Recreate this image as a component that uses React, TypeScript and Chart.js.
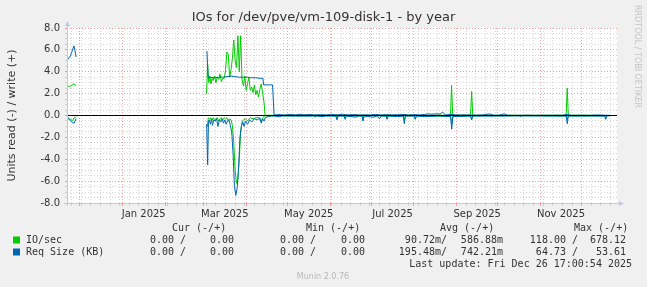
import React, { useEffect, useRef } from 'react';
import { Chart, registerables } from 'chart.js';

Chart.register(...registerables);

// ---------- texts ----------
const TITLE = 'IOs for /dev/pve/vm-109-disk-1 - by year';
const Y_TITLE = 'Units read (-) / write (+)';
const WATERMARK = 'RRDTOOL / TOBI OETIKER';
const VERSION = 'Munin 2.0.76';
const LAST_UPDATE = 'Last update: Fri Dec 26 17:00:54 2025';
const LEGEND_HEADERS = ['Cur (-/+)', 'Min (-/+)', 'Avg (-/+)', 'Max (-/+)'];
const SERIES_NAMES = ['IO/sec', 'Req Size (KB)'];
const IO_STATS = ['0.00 /', '0.00', '0.00 /', '0.00', '90.72m/', '586.88m', '118.00 /', '678.12'];
const REQ_STATS = ['0.00 /', '0.00', '0.00 /', '0.00', '195.48m/', '742.21m', '64.73 /', '53.61'];

// ---------- axes (x in days since 2025-01-01) ----------
const X_MIN = -40.29; // 2024-11-21 17:00
const X_MAX = 359.71; // 2025-12-26 17:00
const MONTH_STARTS = [-31, 0, 31, 59, 90, 120, 151, 181, 212, 243, 273, 304, 334];
const MONTH_LABELS = ['Jan 2025', 'Mar 2025', 'May 2025', 'Jul 2025', 'Sep 2025', 'Nov 2025'];
const MONTH_LABEL_DAYS = [15.5, 74.5, 135.5, 196.5, 258, 319];
const FIRST_MONDAY = -37;
const Y_MIN = -8;
const Y_MAX = 8;
const Y_LABEL_STEP = 2;
const Y_MINOR_STEP = 0.5;

// ---------- series: [day, value] ----------
const IO_WRITE: [number, number | null][] = [
  [-40.2, 2.75], [-39, 2.65], [-37.5, 2.72], [-36.5, 2.8], [-35.2, 2.9], [-34.3, 2.78], [-33.6, 2.72], [-33, null],
  [61.2, 2.0], [62, 4.7], [62.8, 3.0], [63.6, 3.6], [64.4, 2.9], [65.2, 3.4], [66, 3.2], [67, 3.6], [68, 3.0],
  [69, 3.5], [70, 3.3], [71, 3.8], [72, 3.1], [73, 3.4], [74, 3.4], [75, 4.1], [76, 5.8], [77, 5.6], [78, 3.5],
  [79, 4.2], [80, 5.2], [81, 6.9], [82, 5.0], [83, 4.4], [84, 7.3], [85, 4.0], [86, 7.3], [87, 3.3], [88, 2.7],
  [89, 3.6], [90, 2.3], [91, 2.9], [92, 3.5], [93, 2.3], [94, 2.6], [95, 2.1], [96, 2.8], [97, 1.9], [98, 2.3],
  [99, 1.7], [100, 2.4], [101, 2.9], [102, 2.0], [103, 1.2], [103.8, 0.02],
  [105, 0.02], [120, 0.03], [140, 0.02], [160, 0.03], [180, 0.02], [200, 0.03], [220, 0.02],
  [238.6, 0.03], [239.4, 2.75], [240.2, 0.05], [253.2, 0.03], [254, 2.2], [254.8, 0.03], [270, 0.02],
  [300, 0.02], [322.7, 0.03], [323.5, 2.5], [324.3, 0.03], [340, 0.02], [356, 0],
];

const IO_READ: [number, number | null][] = [
  [-40.2, -0.08], [-39, -0.3], [-37.8, -0.35], [-36.2, -0.47], [-35.2, -0.23], [-34, -0.15], [-33.6, -0.1], [-33, null],
  [61.2, -0.9], [61.8, -1.0], [62.5, -0.2], [63.3, -0.3], [64, -0.2], [65, -0.5], [66, -0.2], [67, -0.4], [68, -0.3],
  [69, -0.2], [70, -0.5], [71, -0.3], [72, -0.2], [73, -0.4], [74, -0.2], [75, -0.3], [76, -0.2], [77, -0.5],
  [78, -0.3], [79, -0.4], [80, -0.9], [81, -2.5], [82, -5.0], [83, -6.2], [84, -5.8], [85, -4.0], [86, -1.5],
  [87, -0.6], [88, -0.4], [89.5, -0.3], [91, -0.5], [93, -0.2], [95, -0.3], [97, -0.2], [99, -0.2], [101, -0.6],
  [102, -0.2], [103, -0.1], [104, -0.02],
  [130, -0.03], [155.3, -0.03], [156, -0.3], [156.8, -0.03], [161.3, -0.03], [162, -0.25], [162.8, -0.03],
  [174.3, -0.03], [175, -0.4], [175.8, -0.03], [191.8, -0.03], [192.5, -0.25], [193.3, -0.03], [204.3, -0.03],
  [205, -0.45], [205.8, -0.03], [212.3, -0.03], [213, -0.3], [213.8, -0.03], [238.7, -0.05], [239.5, -0.8],
  [240.3, -0.05], [253.3, -0.03], [254, -0.35], [254.7, -0.03], [300, -0.02], [322.8, -0.03], [323.5, -0.4],
  [324.3, -0.03], [350.8, -0.03], [351.5, -0.25], [352.3, -0.02], [356, 0],
];

const REQ_WRITE: [number, number | null][] = [
  [-40.2, 5.03], [-39, 5.24], [-37.8, 5.44], [-37, 5.74], [-36.2, 6.04], [-35.2, 6.36], [-34.5, 5.95], [-33.7, 5.35], [-33, null],
  [61.5, 5.9], [62.3, 3.5], [64, 3.5], [67, 3.45], [70, 3.5], [73, 3.5], [76, 3.55], [79, 3.6], [82, 3.55],
  [85, 3.5], [88, 3.5], [91, 3.5], [94, 3.45], [97, 3.45], [100, 3.4], [102.2, 3.4], [102.7, 2.8], [106, 2.8],
  [109.2, 2.8], [110.3, 0.1],
  [111, 0.05], [114, 0.08], [118, 0.05], [122, 0.1], [126, 0.05], [129, 0.12], [132, 0.06], [136, 0.1],
  [140, 0.05], [144, 0.08], [148, 0.05], [152, 0.1], [156, 0.05], [160, 0.12], [164, 0.05], [168, 0.08],
  [172, 0.05], [176, 0.06], [180, 0.05], [184, 0.1], [188, 0.05], [192, 0.08], [196, 0.05], [200, 0.06],
  [204, 0.1], [208, 0.05], [212, 0.08], [216, 0.05], [220, 0.1], [222, 0.15], [225, 0.12], [228, 0.15],
  [231, 0.14], [233, 0.3], [235, 0.05], [239, 0.1], [242, 0.05], [246, 0.04], [250, 0.05], [254, 0.05],
  [258, 0.03], [262, 0.05], [267, 0.15], [270, 0.03], [274, 0.03], [277.5, 0.15], [280, 0.03], [285, 0.02],
  [290, 0.02], [296, 0.03], [300, 0.02], [305, 0.03], [310, 0.02], [315, 0.03], [320, 0.02], [323.5, 0.1],
  [326, 0.02], [330, 0.02], [335, 0.03], [340, 0.02], [345, 0.05], [350, 0.03], [353, 0.02], [356, 0],
];

const REQ_READ: [number, number | null][] = [
  [-40.2, -0.17], [-39, -0.35], [-37.8, -0.45], [-36.2, -0.68], [-35, -0.68], [-33.7, -0.3], [-33, null],
  [61.3, -0.8], [62.0, -4.5], [62.6, -0.5], [63.3, -0.4], [64, -0.8], [64.8, -0.3], [65.5, -0.9], [66.5, -0.4],
  [67.5, -0.5], [68.5, -0.3], [69.5, -1.0], [70.5, -0.4], [71.5, -0.6], [72.5, -0.3], [73.5, -0.7], [74.5, -0.4],
  [75.5, -0.8], [76.5, -0.5], [77.5, -0.4], [78.5, -0.9], [79.5, -1.5], [80.5, -3.5], [81.5, -6.5], [82.5, -7.3],
  [83.5, -6.6], [84.5, -4.8], [85.5, -2.0], [86.5, -1.0], [87.5, -0.6], [88.5, -1.0], [89.5, -0.5], [91, -0.8],
  [92.5, -0.4], [94, -0.6], [96, -0.3], [98, -0.4], [100, -0.2], [101, -0.7], [102, -0.3], [103, -0.5],
  [104, -0.2], [106, -0.1], [108, -0.05], [110, -0.05],
  [111, -0.05], [114, -0.12], [116, -0.04], [130, -0.05], [139, -0.04], [140, -0.15], [141, -0.04], [146, -0.1],
  [148, -0.04], [155.3, -0.05], [156, -0.4], [156.8, -0.05], [161.3, -0.05], [162, -0.35], [162.8, -0.05],
  [170, -0.15], [172, -0.04], [174.3, -0.05], [175, -0.5], [175.8, -0.05], [183, -0.15], [185, -0.04],
  [187, -0.3], [188, -0.05], [191.8, -0.05], [192.5, -0.35], [193.3, -0.05], [200, -0.1], [204.3, -0.05],
  [205, -0.75], [205.8, -0.05], [212.3, -0.05], [213, -0.35], [213.8, -0.05], [220, -0.1], [230, -0.05],
  [238.7, -0.1], [239.5, -1.25], [240.3, -0.1], [253.3, -0.05], [254, -0.4], [254.7, -0.05], [270, -0.05],
  [289, -0.03], [289.6, -0.12], [290.3, -0.03], [310, -0.05], [322.8, -0.05], [323.5, -0.75], [324.3, -0.05],
  [340, -0.05], [350.8, -0.05], [351.5, -0.35], [352.3, -0.03], [356, 0],
];

// ---------- styles ----------
const GREEN = '#00cc00';
const BLUE = '#0066b3';
const MAJOR_GRID = 'rgba(225, 90, 90, 0.55)';
const MINOR_GRID = 'rgba(165, 165, 165, 0.45)';
const AXIS_COLOR = '#c4c4f2';
const TEXT = '#333333';
const SANS = "'DejaVu Sans', sans-serif";
const MONO = "'DejaVu Sans Mono', monospace";

const toPoints = (arr: [number, number | null][]) => arr.map(([x, y]) => ({ x, y }));

function buildXTicks(): number[] {
  const set = new Set<number>();
  for (let d = FIRST_MONDAY; d <= X_MAX; d += 7) set.add(d);
  MONTH_STARTS.forEach((d) => set.add(d));
  MONTH_LABEL_DAYS.forEach((d) => set.add(d));
  return Array.from(set).sort((a, b) => a - b);
}

function buildYTicks(): number[] {
  const out: number[] = [];
  for (let v = Y_MIN; v <= Y_MAX + 1e-9; v += Y_MINOR_STEP) out.push(Math.round(v * 10) / 10);
  return out;
}

const muninPlugin = {
  id: 'muninDecor',
  beforeDraw(chart: any) {
    const { ctx, chartArea: a } = chart;
    ctx.save();
    ctx.fillStyle = '#f0f0f0';
    ctx.fillRect(0, 0, chart.width, chart.height);
    ctx.fillStyle = '#ffffff';
    ctx.fillRect(a.left, a.top, a.right - a.left, a.bottom - a.top);
    ctx.restore();
  },
  afterDraw(chart: any) {
    const { ctx, chartArea: a } = chart;
    ctx.save();
    // axes with arrows
    ctx.strokeStyle = AXIS_COLOR;
    ctx.fillStyle = AXIS_COLOR;
    ctx.lineWidth = 1;
    ctx.beginPath();
    ctx.moveTo(a.left + 0.5, a.bottom + 3);
    ctx.lineTo(a.left + 0.5, a.top - 3);
    ctx.moveTo(a.left - 3, a.bottom + 0.5);
    ctx.lineTo(a.right + 3, a.bottom + 0.5);
    ctx.stroke();
    ctx.beginPath();
    ctx.moveTo(a.left - 2, a.top - 2);
    ctx.lineTo(a.left + 3, a.top - 2);
    ctx.lineTo(a.left + 0.5, a.top - 7);
    ctx.closePath();
    ctx.fill();
    ctx.beginPath();
    ctx.moveTo(a.right + 2, a.bottom - 2);
    ctx.lineTo(a.right + 2, a.bottom + 3);
    ctx.lineTo(a.right + 7, a.bottom + 0.5);
    ctx.closePath();
    ctx.fill();

    // title
    ctx.fillStyle = TEXT;
    ctx.font = `13px ${SANS}`;
    ctx.textAlign = 'center';
    ctx.textBaseline = 'middle';
    ctx.fillText(TITLE, 323.5, 18);

    // y title
    ctx.save();
    ctx.translate(12, (a.top + a.bottom) / 2);
    ctx.rotate(-Math.PI / 2);
    ctx.font = `11px ${SANS}`;
    ctx.fillText(Y_TITLE, 0, 0);
    ctx.restore();

    // watermark
    ctx.save();
    ctx.translate(637, 5);
    ctx.rotate(Math.PI / 2);
    ctx.font = `8px ${SANS}`;
    ctx.fillStyle = '#c4c4c4';
    ctx.textAlign = 'left';
    ctx.fillText(WATERMARK, 0, 0);
    ctx.restore();

    // legend
    ctx.font = `10px ${MONO}`;
    ctx.fillStyle = TEXT;
    ctx.textAlign = 'left';
    const headerX = [172, 306, 440, 574];
    LEGEND_HEADERS.forEach((h, i) => ctx.fillText(h, headerX[i], 228));
    const ends = [186, 234, 316, 365, 447, 503, 578, 626];
    const rows = [IO_STATS, REQ_STATS];
    const colors = [GREEN, BLUE];
    rows.forEach((row, r) => {
      const y = 240 + r * 12;
      ctx.fillStyle = colors[r];
      ctx.fillRect(13, y - 3.5, 7, 7);
      ctx.fillStyle = TEXT;
      ctx.textAlign = 'left';
      ctx.fillText(SERIES_NAMES[r], 26, y);
      ctx.textAlign = 'right';
      row.forEach((s, i) => ctx.fillText(s, ends[i], y));
    });
    ctx.textAlign = 'right';
    ctx.fillText(LAST_UPDATE, 632, 264);

    ctx.font = `8px ${SANS}`;
    ctx.fillStyle = '#b8b8b8';
    ctx.textAlign = 'center';
    ctx.fillText(VERSION, 323, 277);
    ctx.restore();
  },
};

export default function App() {
  const ref = useRef<HTMLCanvasElement | null>(null);

  useEffect(() => {
    document.body.style.margin = '0';
    const canvas = ref.current;
    if (!canvas) return;
    const xTicks = buildXTicks();
    const yTicks = buildYTicks();
    const line = (data: any, color: string) => ({
      data,
      borderColor: color,
      backgroundColor: color,
      borderWidth: 1,
      pointRadius: 0,
      tension: 0,
      spanGaps: false,
    });
    const xGridColor = (c: any) => {
      const v = c.tick ? c.tick.value : null;
      if (MONTH_LABEL_DAYS.includes(v)) return 'rgba(0,0,0,0)';
      return MONTH_STARTS.includes(v) ? MAJOR_GRID : MINOR_GRID;
    };
    const chart = new Chart(canvas, {
      type: 'line',
      data: {
        datasets: [
          line([{ x: X_MIN, y: 0 }, { x: X_MAX, y: 0 }], '#000000'),
          line(toPoints(REQ_WRITE), BLUE),
          line(toPoints(REQ_READ), BLUE),
          line(toPoints(IO_WRITE), GREEN),
          line(toPoints(IO_READ), GREEN),
        ],
      },
      options: {
        animation: false,
        responsive: false,
        devicePixelRatio: 1,
        layout: { padding: { top: 28, right: 30, left: 0, bottom: 0 } },
        plugins: { legend: { display: false }, tooltip: { enabled: false }, title: { display: false } },
        scales: {
          x: {
            type: 'linear',
            min: X_MIN,
            max: X_MAX,
            afterBuildTicks: (s: any) => {
              s.ticks = xTicks.map((v) => ({ value: v }));
            },
            afterFit: (s: any) => {
              s.height = 84;
            },
            grid: {
              color: xGridColor,
              tickColor: xGridColor,
              tickLength: 3,
              lineWidth: 1,
            },
            border: { display: false, dash: [1, 2] },
            ticks: {
              autoSkip: false,
              maxRotation: 0,
              minRotation: 0,
              padding: 2,
              color: TEXT,
              font: { family: SANS, size: 10 },
              callback: (v: any) => {
                const i = MONTH_LABEL_DAYS.indexOf(Number(v));
                return i >= 0 ? MONTH_LABELS[i] : '';
              },
            },
          },
          y: {
            type: 'linear',
            min: Y_MIN,
            max: Y_MAX,
            afterBuildTicks: (s: any) => {
              s.ticks = yTicks.map((v) => ({ value: v }));
            },
            afterFit: (s: any) => {
              s.width = 67;
            },
            grid: {
              color: (c: any) => {
                const v = c.tick ? c.tick.value : null;
                if (v === 0) return 'rgba(0,0,0,0)';
                return Math.abs(v % Y_LABEL_STEP) < 1e-9 ? MAJOR_GRID : MINOR_GRID;
              },
              tickColor: (c: any) => {
                const v = c.tick ? c.tick.value : null;
                return Math.abs(v % Y_LABEL_STEP) < 1e-9 ? MAJOR_GRID : MINOR_GRID;
              },
              tickLength: 2,
              lineWidth: 1,
            },
            border: { display: false, dash: [1, 2] },
            ticks: {
              autoSkip: false,
              padding: 5,
              color: TEXT,
              font: { family: SANS, size: 10 },
              callback: (v: any) => (Math.abs(Number(v) % Y_LABEL_STEP) < 1e-9 ? Number(v).toFixed(1) : ''),
            },
          },
        },
      },
      plugins: [muninPlugin],
    } as any);
    return () => chart.destroy();
  }, []);

  return (
    <div style={{ position: 'absolute', left: 0, top: 0, width: 647, height: 287 }}>
      <canvas ref={ref} width={647} height={287} style={{ display: 'block', width: 647, height: 287 }} />
    </div>
  );
}
